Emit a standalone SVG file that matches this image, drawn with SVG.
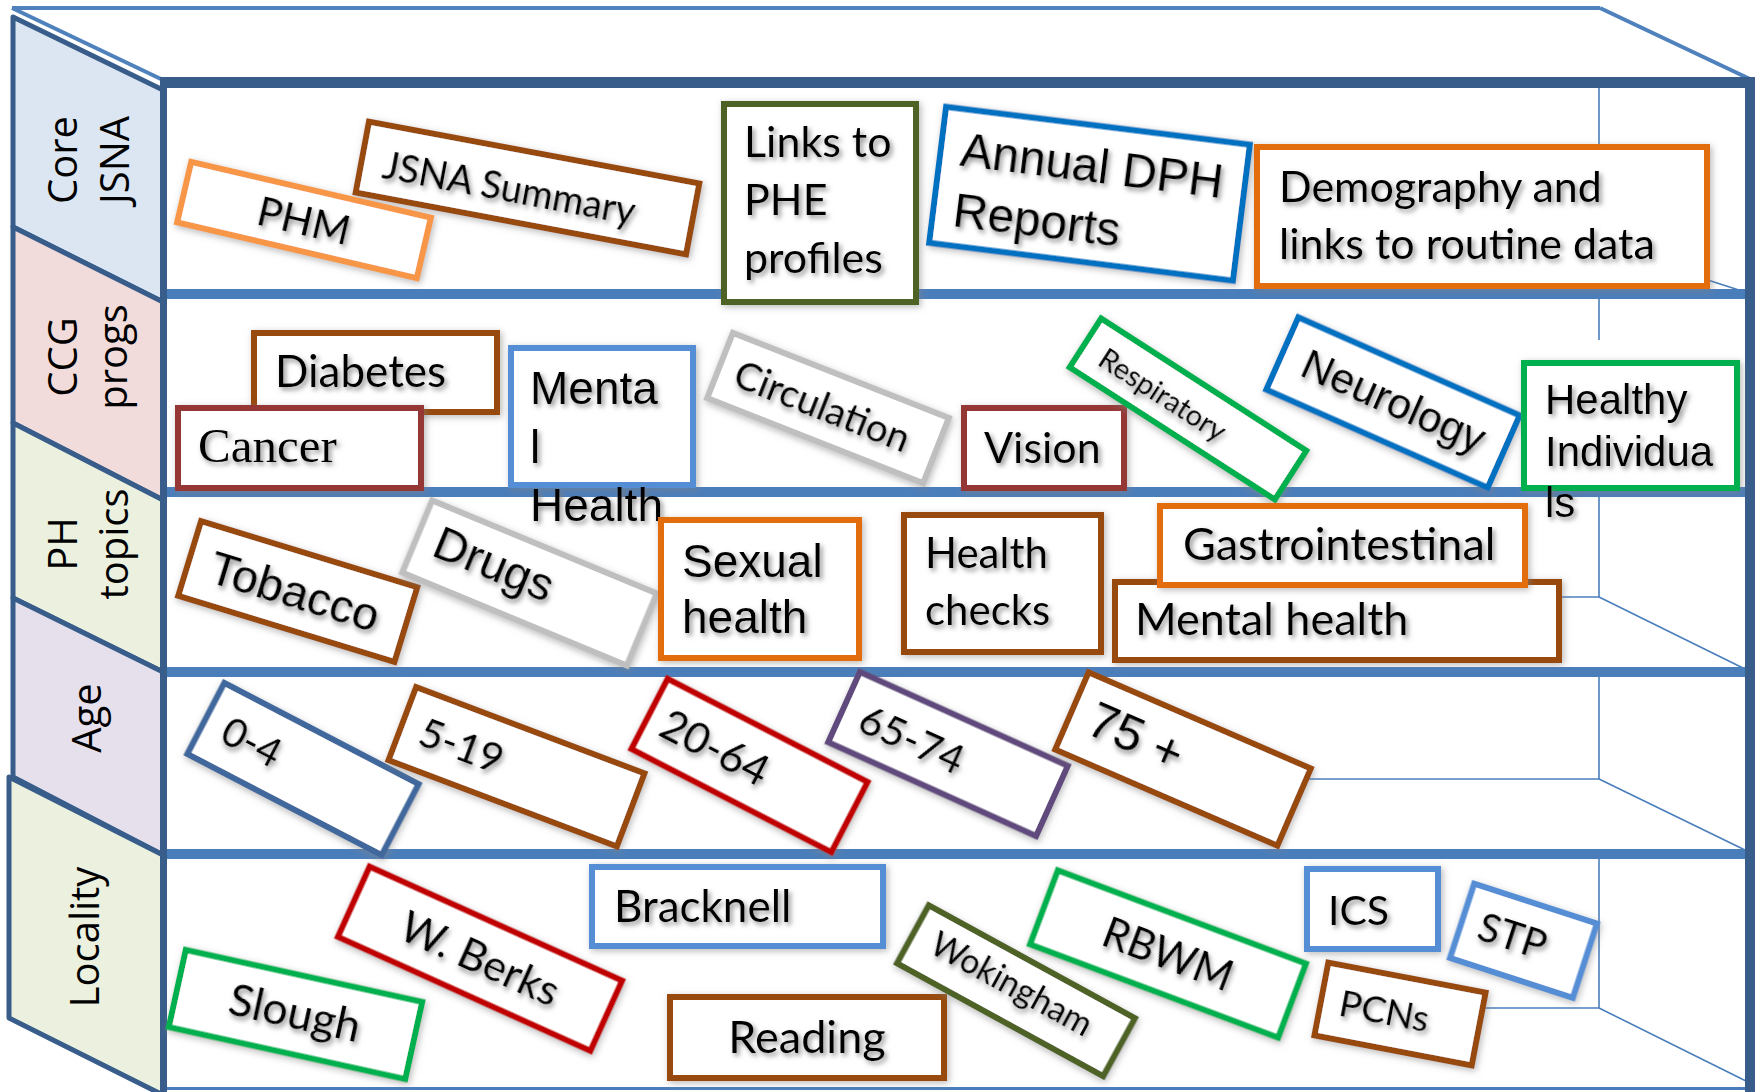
<svg xmlns="http://www.w3.org/2000/svg" width="1759" height="1092" viewBox="0 0 1759 1092">
<defs>
<filter id="bs" x="-20%" y="-30%" width="140%" height="160%"><feDropShadow dx="2" dy="2" stdDeviation="3.5" flood-color="#7f7f7f" flood-opacity="0.55"/></filter>
<filter id="ts" x="-10%" y="-20%" width="130%" height="160%"><feDropShadow dx="2.5" dy="3" stdDeviation="2.4" flood-color="#7a7a7a" flood-opacity="0.85"/></filter>
</defs>
<style>
.bx{fill:#fff;stroke-width:6;filter:url(#bs)}
.t{font-family:Lato,'Open Sans',sans-serif;fill:#000;filter:url(#ts)}
.a{font-family:'Liberation Sans',Arial,sans-serif;fill:#000;filter:url(#ts)}
.s{font-family:'Liberation Serif','Times New Roman',serif;fill:#000;filter:url(#ts)}
.lbl{font-family:'Open Sans',sans-serif;font-size:40px;fill:#000}
.side{stroke:#385d8a;stroke-width:5;stroke-linejoin:round}
.shelf{fill:#4a7ebb}
.dark{fill:#385d8a}
.back{stroke:#4a7ebb;stroke-width:1.6;fill:none}
.top{stroke:#4f81bd;stroke-width:4;fill:none}
</style>
<rect width="1759" height="1092" fill="#fff"/>

<g id="frame">
  <line class="top" x1="12" y1="8" x2="1600" y2="8"/>
  <line class="top" x1="1600" y1="8" x2="1752" y2="80"/>
  <line class="top" x1="12" y1="8" x2="163" y2="80"/>
  <polygon class="side" points="13,17 163,90 163,302 13,227" fill="#dce6f2"/>
  <polygon class="side" points="13,227 163,302 163,500 13,423" fill="#f2dcdb"/>
  <polygon class="side" points="13,423 163,500 163,672 13,598" fill="#ebf1de"/>
  <polygon class="side" points="13,598 163,672 163,855 13,777" fill="#e5e0ec"/>
  <polygon class="side" points="9,777 163,855 163,1095 9,1018" fill="#ebf1de"/>
  <line class="back" x1="1599" y1="88" x2="1599" y2="245"/>
  <line class="back" x1="1599" y1="245" x2="1745" y2="292"/>
  <line class="back" x1="1599" y1="299" x2="1599" y2="340"/>
  <line class="back" x1="1599" y1="497" x2="1599" y2="597"/>
  <line class="back" x1="1500" y1="597" x2="1599" y2="597"/>
  <line class="back" x1="1599" y1="597" x2="1745" y2="669"/>
  <line class="back" x1="1599" y1="677" x2="1599" y2="779"/>
  <line class="back" x1="1250" y1="779" x2="1599" y2="779"/>
  <line class="back" x1="1599" y1="779" x2="1745" y2="850"/>
  <line class="back" x1="1599" y1="859" x2="1599" y2="1008"/>
  <line class="back" x1="1440" y1="1008" x2="1599" y2="1008"/>
  <line class="back" x1="1599" y1="1008" x2="1748" y2="1082"/>
  <rect class="shelf" x="163" y="289" width="1587" height="10"/>
  <rect class="shelf" x="163" y="487" width="1587" height="10"/>
  <rect class="shelf" x="163" y="667" width="1587" height="10"/>
  <rect class="shelf" x="163" y="849" width="1587" height="10"/>
  <rect class="shelf" x="163" y="1087" width="1587" height="3"/>
  <rect class="dark" x="160" y="77" width="1595" height="11"/>
  <rect class="dark" x="160" y="82" width="7" height="1010"/>
  <rect class="dark" x="1745" y="77" width="10" height="1015"/>
  <text class="lbl" transform="translate(77 160) rotate(-90)" text-anchor="middle">Core</text>
  <text class="lbl" transform="translate(129 160) rotate(-90)" text-anchor="middle">JSNA</text>
  <text class="lbl" transform="translate(77 357) rotate(-90)" text-anchor="middle">CCG</text>
  <text class="lbl" transform="translate(127 357) rotate(-90)" text-anchor="middle">progs</text>
  <text class="lbl" transform="translate(77 544) rotate(-90)" text-anchor="middle">PH</text>
  <text class="lbl" transform="translate(128 544) rotate(-90)" text-anchor="middle">topics</text>
  <text class="lbl" transform="translate(101 718) rotate(-90)" text-anchor="middle">Age</text>
  <text class="lbl" transform="translate(99 937) rotate(-90)" text-anchor="middle">Locality</text>
</g>

<g id="connectors"></g>

<g id="n-jsna-summary" transform="translate(527.5 188) rotate(10.6)">
  <rect class="bx" x="-168" y="-36" width="336" height="72" stroke="#984807"/>
  <text class="t" x="-18" y="17" text-anchor="middle" font-size="38">JSNA Summary</text>
</g>
<g id="n-phm" transform="translate(304 220) rotate(13.1)">
  <rect class="bx" x="-123" y="-31" width="246" height="62" stroke="#f79646" stroke-width="5"/>
  <text class="t" x="0" y="15" text-anchor="middle" font-size="41">PHM</text>
</g>
<g id="n-links-phe">
  <rect class="bx" x="724" y="104" width="192" height="198" stroke="#4f6228"/>
  <text class="t" font-size="43"><tspan x="744" y="157">Links to</tspan><tspan x="744" y="215">PHE</tspan><tspan x="744" y="273">profiles</tspan></text>
</g>
<g id="n-annual-dph" transform="translate(1089.5 193.75) rotate(7.1)">
  <rect class="bx" x="-153" y="-68.5" width="306" height="137" stroke="#0070c0"/>
  <text class="a" font-size="48"><tspan x="-133" y="-12">Annual DPH</tspan><tspan x="-133" y="49">Reports</tspan></text>
</g>
<g id="n-demography">
  <rect class="bx" x="1257" y="147" width="450" height="139" stroke="#e36c09"/>
  <text class="t" font-size="43"><tspan x="1279" y="202">Demography and</tspan><tspan x="1279" y="259">links to routine data</tspan></text>
</g>

<g id="n-diabetes">
  <rect class="bx" x="254" y="333" width="243" height="79" stroke="#984807"/>
  <text class="t" x="275" y="387" font-size="44">Diabetes</text>
</g>
<g id="n-cancer">
  <rect class="bx" x="178" y="408" width="243" height="80" stroke="#953735"/>
  <text class="s" x="198" y="462" font-size="49">Cancer</text>
</g>
<g id="n-mental-health-ccg">
  <rect class="bx" x="511" y="348" width="182" height="137" stroke="#558ed5"/>
  <text class="a" font-size="46"><tspan x="530" y="404">Menta</tspan><tspan x="530" y="463">l</tspan><tspan x="530" y="521">Health</tspan></text>
</g>
<g id="n-circulation" transform="translate(828 408) rotate(21.5)">
  <rect class="bx" x="-116" y="-35" width="232" height="70" stroke="#bfbfbf" stroke-width="7"/>
  <text class="t" x="-6" y="14" text-anchor="middle" font-size="39">Circulation</text>
</g>
<g id="n-vision">
  <rect class="bx" x="964" y="408" width="160" height="80" stroke="#953735"/>
  <text class="t" x="984" y="463" font-size="43">Vision</text>
</g>
<g id="n-respiratory" transform="translate(1188 409) rotate(32.8)">
  <rect class="bx" x="-122" y="-29" width="244" height="58" stroke="#00b050"/>
  <text class="t" x="-29" y="12" text-anchor="middle" font-size="29">Respiratory</text>
</g>
<g id="n-neurology" transform="translate(1393 402.5) rotate(23.9)">
  <rect class="bx" x="-121" y="-39.5" width="242" height="79" stroke="#0070c0"/>
  <text class="a" x="0" y="13" text-anchor="middle" font-size="43">Neurology</text>
</g>
<g id="n-healthy-individuals">
  <rect class="bx" x="1524" y="363" width="213" height="125" stroke="#00b050"/>
  <text class="a" font-size="42"><tspan x="1545" y="414">Healthy</tspan><tspan x="1545" y="466">Individua</tspan><tspan x="1545" y="517">ls</tspan></text>
</g>

<g id="n-tobacco" transform="translate(297.75 591.5) rotate(17)">
  <rect class="bx" x="-113" y="-39" width="226" height="78" stroke="#984807"/>
  <text class="a" x="-3" y="17" text-anchor="middle" font-size="47">Tobacco</text>
</g>
<g id="n-drugs" transform="translate(529.5 583) rotate(22.5)">
  <rect class="bx" x="-121.5" y="-39" width="243" height="78" stroke="#bfbfbf" stroke-width="7"/>
  <text class="a" x="-40" y="12" text-anchor="middle" font-size="47">Drugs</text>
</g>
<g id="n-sexual-health">
  <rect class="bx" x="661" y="520" width="198" height="138" stroke="#e36c09"/>
  <text class="a" font-size="46"><tspan x="682" y="577">Sexual</tspan><tspan x="682" y="633">health</tspan></text>
</g>
<g id="n-health-checks">
  <rect class="bx" x="904" y="515" width="197" height="137" stroke="#984807"/>
  <text class="t" font-size="42"><tspan x="925" y="568">Health</tspan><tspan x="925" y="625">checks</tspan></text>
</g>
<g id="n-mental-health-ph">
  <rect class="bx" x="1115" y="582" width="444" height="78" stroke="#984807"/>
  <text class="t" x="1135" y="635" font-size="45">Mental health</text>
</g>
<g id="n-gastrointestinal">
  <rect class="bx" x="1160" y="506" width="365" height="79" stroke="#e36c09"/>
  <text class="t" x="1183" y="560" font-size="45">Gastrointestinal</text>
</g>

<g id="n-age-0-4" transform="translate(303 769) rotate(27.5)">
  <rect class="bx" x="-109.5" y="-40" width="219" height="80" stroke="#41689c"/>
  <text class="t" x="-58" y="14" text-anchor="middle" font-size="40">0-4</text>
</g>
<g id="n-age-5-19" transform="translate(516.5 766.75) rotate(20.7)">
  <rect class="bx" x="-122" y="-39" width="244" height="78" stroke="#984807"/>
  <text class="t" x="-59" y="14" text-anchor="middle" font-size="41">5-19</text>
</g>
<g id="n-age-20-64" transform="translate(749.5 765.5) rotate(27.3)">
  <rect class="bx" x="-112.5" y="-39.5" width="225" height="79" stroke="#c00000"/>
  <text class="t" x="-39" y="15" text-anchor="middle" font-size="43">20-64</text>
</g>
<g id="n-age-65-74" transform="translate(948 754) rotate(24.3)">
  <rect class="bx" x="-114" y="-38.5" width="228" height="77" stroke="#604a7b"/>
  <text class="t" x="-39" y="16" text-anchor="middle" font-size="41">65-74</text>
</g>
<g id="n-age-75" transform="translate(1183 759) rotate(23.4)">
  <rect class="bx" x="-121" y="-42" width="242" height="84" stroke="#984807"/>
  <text class="a" x="-52" y="15" text-anchor="middle" font-size="50">75 +</text>
</g>

<g id="n-slough" transform="translate(295.5 1014.5) rotate(12.4)">
  <rect class="bx" x="-121" y="-39.5" width="242" height="79" stroke="#00b050"/>
  <text class="t" x="-1" y="14" text-anchor="middle" font-size="45">Slough</text>
</g>
<g id="n-wberks" transform="translate(480 958.75) rotate(24.3)">
  <rect class="bx" x="-138.5" y="-38.5" width="277" height="77" stroke="#c00000"/>
  <text class="t" x="0" y="15" text-anchor="middle" font-size="43">W. Berks</text>
</g>
<g id="n-bracknell">
  <rect class="bx" x="592" y="867" width="291" height="79" stroke="#558ed5"/>
  <text class="t" x="614" y="922" font-size="44">Bracknell</text>
</g>
<g id="n-reading">
  <rect class="bx" x="670" y="997" width="274" height="81" stroke="#984807"/>
  <text class="t" x="807" y="1053" text-anchor="middle" font-size="45">Reading</text>
</g>
<g id="n-wokingham" transform="translate(1016 990.75) rotate(28.7)">
  <rect class="bx" x="-117.5" y="-33" width="235" height="66" stroke="#4f6228"/>
  <text class="t" x="-7" y="8" text-anchor="middle" font-size="34">Wokingham</text>
</g>
<g id="n-rbwm" transform="translate(1168 954) rotate(20.6)">
  <rect class="bx" x="-132.5" y="-39.5" width="265" height="79" stroke="#00b050"/>
  <text class="t" x="0" y="15" text-anchor="middle" font-size="42">RBWM</text>
</g>
<g id="n-ics">
  <rect class="bx" x="1307" y="869" width="131" height="80" stroke="#558ed5"/>
  <text class="t" x="1328" y="925" font-size="41">ICS</text>
</g>
<g id="n-stp" transform="translate(1523.5 940.75) rotate(18)">
  <rect class="bx" x="-64.5" y="-39" width="129" height="78" stroke="#558ed5"/>
  <text class="t" x="-12" y="13" text-anchor="middle" font-size="40">STP</text>
</g>
<g id="n-pcns" transform="translate(1400 1014) rotate(10.8)">
  <rect class="bx" x="-80" y="-37" width="160" height="74" stroke="#984807"/>
  <text class="t" x="-16" y="13" text-anchor="middle" font-size="37">PCNs</text>
</g>
</svg>
